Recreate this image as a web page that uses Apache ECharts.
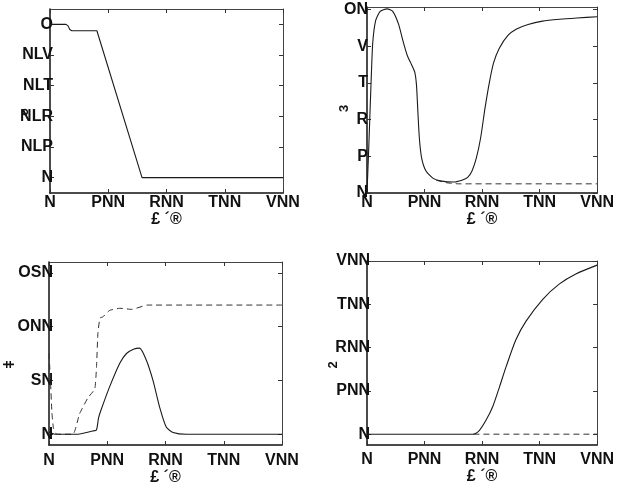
<!DOCTYPE html>
<html>
<head>
<meta charset="utf-8">
<script src="https://cdn.jsdelivr.net/npm/echarts@6/dist/echarts.min.js"></script>
<style>
  html, body { margin: 0; padding: 0; background: #fff; }
  #chart { width: 617px; height: 488px; }
</style>
</head>
<body>
<div id="chart"></div>
<script>
// Shared x axis
const xTicks = [0, 200, 400, 600, 800];
const xTickLabels = ['N', 'PNN', 'RNN', 'TNN', 'VNN'];
const xTitle = '£ ´®';

// Panel A (top left)
const aTicks = [0, 0.2, 0.4, 0.6, 0.8, 1];
const aTickLabels = ['N', 'NLP', 'NLR', 'NLT', 'NLV', 'O'];
const aName = '°';
const aSolid = [[0, 1], [55, 1], [62, 0.99], [68, 0.966], [75, 0.958], [161, 0.958], [316, 0], [800, 0]];

// Panel B (top right)
const bTicks = [0, 2, 4, 6, 8, 10];
const bTickLabels = ['N', 'P', 'R', 'T', 'V', 'ON'];
const bName = '3';
const bSolid = [[0, 0], [5, 2], [10, 4.2], [15, 6.4], [20, 8.2], [30, 9.4], [45, 9.9], [70, 10.05], [90, 9.9],
  [110, 9.2], [125, 8.3], [140, 7.5], [155, 7.0], [166, 6.6], [172, 5.9], [177, 4.4], [182, 3.0], [190, 1.9],
  [205, 1.2], [230, 0.8], [260, 0.65], [300, 0.6], [330, 0.7], [350, 0.85], [365, 1.2], [380, 1.9], [395, 3.0],
  [410, 4.6], [425, 6.0], [440, 7.1], [460, 7.9], [490, 8.6], [520, 8.95], [560, 9.2], [610, 9.38], [670, 9.48],
  [730, 9.55], [800, 9.62]];
const bDashed = [[240, 0.7], [280, 0.55], [320, 0.5], [800, 0.5]];

// Panel C (bottom left)
const cTicks = [0, 50, 100, 150];
const cTickLabels = ['N', 'SN', 'ONN', 'OSN'];
const cName = 'ǂ';
const cSolid = [[0, 2], [20, 0], [100, 0], [150, 3], [163, 4], [170, 15], [178, 22], [208, 44], [243, 66],
  [266, 75], [290, 79], [311, 80], [334, 69], [357, 50], [380, 25], [403, 6.4], [426, 1.7], [472, 0], [800, 0]];
const cDashed = [[0, 75], [5, 50], [10, 20], [15, 6], [22, 1], [30, 0], [82, 0], [105, 19], [134, 34],
  [157, 42], [163, 62], [168, 94], [175, 108], [185, 109], [208, 115], [243, 117], [284, 116], [338, 120], [800, 120]];

// Panel D (bottom right)
const dTicks = [0, 200, 400, 600, 800];
const dTickLabels = ['N', 'PNN', 'RNN', 'TNN', 'VNN'];
const dName = '2';
const dSolid = [[0, 0], [368, 0], [391, 18], [414, 65], [437, 127], [461, 220], [484, 313], [518, 437],
  [553, 522], [611, 623], [668, 693], [726, 740], [800, 781]];
const dDashed = [[370, 0], [800, 0]];

const FONT = "'Liberation Sans', Arial, Helvetica, sans-serif";
const INK = '#111';

function lookup(ticks, labels) {
  return function (v) {
    const i = ticks.findIndex(t => Math.abs(t - v) < 1e-9);
    return i >= 0 ? labels[i] : '';
  };
}

const grids = [
  { left: 50, top: 9, width: 233, height: 184 },
  { left: 367, top: 7, width: 231, height: 186 },
  { left: 49, top: 262, width: 233, height: 183 },
  { left: 367, top: 261, width: 231, height: 184 }
];

const panels = [
  { ticks: aTicks, labels: aTickLabels, min: -0.1, max: 1.1, lblMargin: -3, xMargin: 2, nameGap: 12 },
  { ticks: bTicks, labels: bTickLabels, min: 0, max: 10.15, lblMargin: -1, xMargin: 2, nameGap: 15 },
  { ticks: cTicks, labels: cTickLabels, min: -10, max: 160, lblMargin: -4, xMargin: 8, nameGap: 22 },
  { ticks: dTicks, labels: dTickLabels, min: -50, max: 800, lblMargin: -3, xMargin: 7, nameGap: 23 }
];

const xAxes = [], yAxes = [];
const tickStyle = { show: true, inside: true, length: 4, lineStyle: { color: '#333', width: 1 } };

panels.forEach((p, i) => {
  xAxes.push({
    type: 'value', gridIndex: i, min: 0, max: 800, position: 'bottom',
    name: xTitle, nameLocation: 'middle', nameGap: p.nameGap,
    nameTextStyle: { fontFamily: FONT, fontWeight: 'bold', fontSize: 16, color: INK },
    axisLine: { show: true, onZero: false, lineStyle: { color: INK, width: 1.5 } },
    axisTick: Object.assign({ customValues: xTicks }, tickStyle),
    axisLabel: {
      customValues: xTicks, formatter: lookup(xTicks, xTickLabels), margin: p.xMargin,
      fontFamily: FONT, fontWeight: 'bold', fontSize: 16, color: INK
    },
    splitLine: { show: false }
  });
  yAxes.push({
    type: 'value', gridIndex: i, min: p.min, max: p.max, position: 'left',
    axisLine: { show: true, onZero: false, lineStyle: { color: INK, width: 1.5 } },
    axisTick: Object.assign({ customValues: p.ticks }, tickStyle),
    axisLabel: {
      customValues: p.ticks, formatter: lookup(p.ticks, p.labels), margin: p.lblMargin,
      fontFamily: FONT, fontWeight: 'bold', fontSize: 16, color: INK
    },
    splitLine: { show: false }
  });
});

// Mirrored top and right edges of each box
panels.forEach((p, i) => {
  xAxes.push({
    type: 'value', gridIndex: i, min: 0, max: 800, position: 'top',
    axisLine: { show: true, onZero: false, lineStyle: { color: '#444', width: 1 } },
    axisTick: Object.assign({ customValues: xTicks }, tickStyle),
    axisLabel: { show: false }, splitLine: { show: false }
  });
  yAxes.push({
    type: 'value', gridIndex: i, min: p.min, max: p.max, position: 'right',
    axisLine: { show: true, onZero: false, lineStyle: { color: '#444', width: 1 } },
    axisTick: Object.assign({ customValues: p.ticks }, tickStyle),
    axisLabel: { show: false }, splitLine: { show: false }
  });
});

function line(data, idx, dashed, smooth) {
  return {
    type: 'line', xAxisIndex: idx, yAxisIndex: idx, data: data,
    showSymbol: false, symbol: 'none', smooth: smooth,
    silent: true, animation: false,
    lineStyle: dashed ? { color: '#333', width: 1, type: [6, 4] } : { color: '#1a1a1a', width: 1.1 }
  };
}

const series = [
  line(aSolid, 0, false, false),
  line(bDashed, 1, true, 0.2),
  line(bSolid, 1, false, 0.2),
  line(cDashed, 2, true, 0.15),
  line(cSolid, 2, false, 0.2),
  line(dDashed, 3, true, false),
  line(dSolid, 3, false, 0.25)
];

function glyph(text, x, y, size, rot) {
  return {
    type: 'text', x: x, y: y, rotation: rot, silent: true,
    style: { text: text, fill: INK, font: 'bold ' + size + 'px ' + FONT, align: 'center', verticalAlign: 'middle' }
  };
}

const chart = echarts.init(document.getElementById('chart'), null, { renderer: 'canvas' });
chart.setOption({
  animation: false,
  backgroundColor: '#fff',
  grid: grids,
  xAxis: xAxes,
  yAxis: yAxes,
  series: series,
  graphic: [
    glyph(aName, 25, 117, 20, 0),
    glyph(bName, 344.5, 108.5, 13, Math.PI / 2),
    glyph(cName, 10.5, 364.5, 14, Math.PI / 2),
    glyph(dName, 333, 365, 13, Math.PI / 2)
  ]
});
</script>
</body>
</html>
